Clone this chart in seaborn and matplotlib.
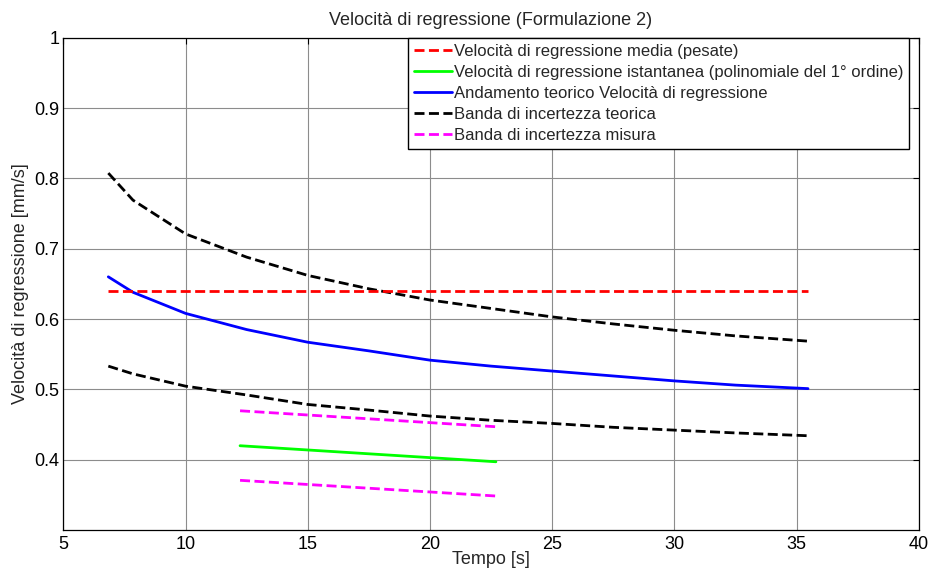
import matplotlib
matplotlib.use("Agg")
import matplotlib.pyplot as plt
import seaborn as sns
import pandas as pd

# --- data -------------------------------------------------------------
# mean regression rate (weighted)
t_media = [6.84, 35.47]
v_media = [0.640, 0.640]

# theoretical regression rate and its uncertainty band
t_teo = [6.84, 7.85, 10.0, 12.5, 15.0, 17.5, 20.0, 22.5, 25.0, 27.5, 30.0, 32.5, 35.47]
v_teo = [0.660, 0.638, 0.608, 0.585, 0.567, 0.5547, 0.5415, 0.533, 0.526, 0.519, 0.512, 0.506, 0.501]
v_teo_sup = [0.8075, 0.769, 0.721, 0.688, 0.662, 0.643, 0.627, 0.615, 0.603, 0.593, 0.584, 0.576, 0.5685]
v_teo_inf = [0.533, 0.522, 0.5045, 0.492, 0.4785, 0.4705, 0.462, 0.456, 0.4515, 0.446, 0.442, 0.438, 0.434]

# instantaneous regression rate (1st order fit) and measurement band
t_ist = [12.23, 22.70]
v_ist = [0.4198, 0.397]
v_mis_sup = [0.4695, 0.4468]
v_mis_inf = [0.3706, 0.3483]

labels = [
    "Velocità di regressione media (pesate)",
    "Velocità di regressione istantanea (polinomiale del 1° ordine)",
    "Andamento teorico Velocità di regressione",
    "Banda di incertezza teorica",
    "Banda di incertezza misura",
]

# --- style ------------------------------------------------------------
sns.set_style("white")
plt.rcParams["font.family"] = ["Liberation Sans", "DejaVu Sans"]
FS = 13
FS_LEG = 12
plt.rcParams["font.size"] = FS

fig = plt.figure(figsize=(9.33, 5.75), dpi=100)
ax = fig.add_axes([0.0679, 0.0783, 0.9168, 0.8561])

LW = 2.0
DASH = (3.6, 1.6)

def draw(t, v, color, dashed, z=2, label=None):
    df = pd.DataFrame({"t": t, "v": v})
    sns.lineplot(data=df, x="t", y="v", ax=ax, color=color, lw=LW,
                 label=label, legend=False, sort=False, estimator=None,
                 zorder=z)
    line = ax.lines[-1]
    if dashed:
        line.set_dashes(DASH)
    return line

h_ist = draw(t_ist, v_ist, "#00ff00", False)
h_teo = draw(t_teo, v_teo, "#0000ff", False)
h_band = draw(t_teo, v_teo_sup, "black", True)
draw(t_teo, v_teo_inf, "black", True)
h_mis = draw(t_ist, v_mis_sup, "#ff00ff", True)
draw(t_ist, v_mis_inf, "#ff00ff", True)
h_media = draw(t_media, v_media, "#ff0000", True, z=3)

# --- axes -------------------------------------------------------------
ax.set_xlim(5, 40)
ax.set_ylim(0.3, 1.0)
ax.set_xticks([5, 10, 15, 20, 25, 30, 35, 40])
ax.set_yticks([0.4, 0.5, 0.6, 0.7, 0.8, 0.9, 1.0])
ax.set_yticklabels(["0.4", "0.5", "0.6", "0.7", "0.8", "0.9", "1"])
ax.grid(True, color="#8c8c8c", lw=0.8)
ax.set_axisbelow(True)
for s in ax.spines.values():
    s.set_color("black")
    s.set_linewidth(0.9)
ax.tick_params(direction="in", length=4, width=0.8, top=True, right=True,
               colors="black", labelsize=FS, pad=3)
ax.tick_params(axis="x", pad=4)

ax.set_title("Velocità di regressione (Formulazione 2)", fontsize=FS, pad=9.5)
ax.set_xlabel("Tempo [s]", fontsize=FS, labelpad=-1)
ax.set_ylabel("Velocità di regressione [mm/s]", fontsize=FS, labelpad=4)

leg = ax.legend([h_media, h_ist, h_teo, h_band, h_mis], labels,
                loc="upper right", bbox_to_anchor=(0.9887, 1.0),
                borderaxespad=0, fancybox=False, framealpha=1,
                edgecolor="black", fontsize=FS_LEG, handlelength=2.25,
                handletextpad=0.12, labelspacing=0.36, borderpad=0.36)
leg.get_frame().set_linewidth(1.0)

fig.savefig("out.png", dpi=100)
